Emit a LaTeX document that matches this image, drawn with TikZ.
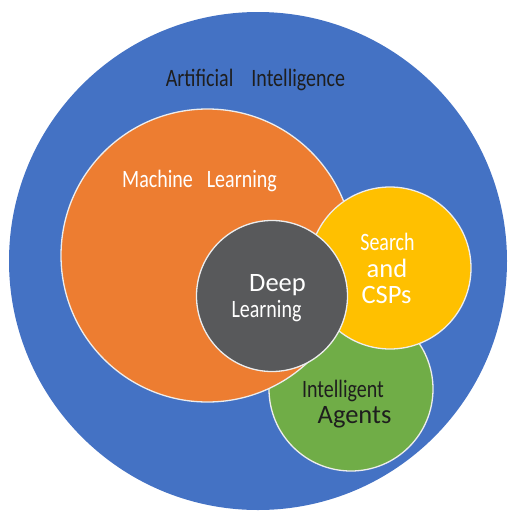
\documentclass[tikz,border=0pt]{standalone}
\usepackage{fontspec}
\setmainfont{Carlito}

\definecolor{aiblue}{HTML}{4472C4}
\definecolor{mlorange}{HTML}{ED7D31}
\definecolor{dlgrey}{HTML}{58595B}
\definecolor{scyellow}{HTML}{FFC000}
\definecolor{iagreen}{HTML}{70AD47}
\definecolor{ink}{HTML}{1E1E1E}
\definecolor{rim}{HTML}{EDEDED}

% narrow lettering for the condensed labels
\newcommand{\condtext}[1]{\scalebox{0.8}[1]{#1}}

\begin{document}
\begin{tikzpicture}[x=1pt, y=-1pt,
  disc/.style={circle, inner sep=0pt, outer sep=0pt, draw=rim, line width=1.3pt},
  lbl/.style={inner sep=0pt, anchor=base},
  big/.style={font=\fontsize{26.5}{30}\selectfont},
  mid/.style={font=\fontsize{25}{30}\selectfont},
]
\useasboundingbox (0,0) rectangle (507,512);

% nested discs, back to front
\node[disc, draw=none, fill=aiblue, minimum size=498pt] (ai) at (258,261) {};
\node[disc, fill=iagreen, minimum size=164pt] (ia) at (351,389) {};
\node[disc, fill=mlorange, minimum size=293pt] (ml) at (207.5,255.5) {};
\node[disc, fill=scyellow, minimum size=162pt] (sc) at (390,268) {};
\node[disc, fill=dlgrey, minimum size=151pt] (dl) at (272,296) {};

% labels
\node[lbl, mid, text=ink] (aitext) at (255.5,86)
  {\condtext{Artificial\hspace{0.9em}Intelligence}};
\node[lbl, mid, text=white] (mltext) at (199.5,187)
  {\condtext{Machine\hspace{0.7em}Learning}};

\node[lbl, big, text=white] (dltop) at (277.5,291) {Deep};
\node[lbl, mid, text=white] (dlbot) at (266.5,317) {\condtext{Learning}};

\node[lbl, mid, text=white] (sctop) at (387.5,250) {\condtext{Search}};
\node[lbl, big, text=white] (scmid) at (387,277) {and};
\node[lbl, big, text=white] (scbot) at (386.5,303) {CSPs};

\node[lbl, mid, text=ink] (iatop) at (343,397) {\condtext{Intelligent}};
\node[lbl, big, text=ink] (iabot) at (354.5,423) {Agents};
\end{tikzpicture}
\end{document}
